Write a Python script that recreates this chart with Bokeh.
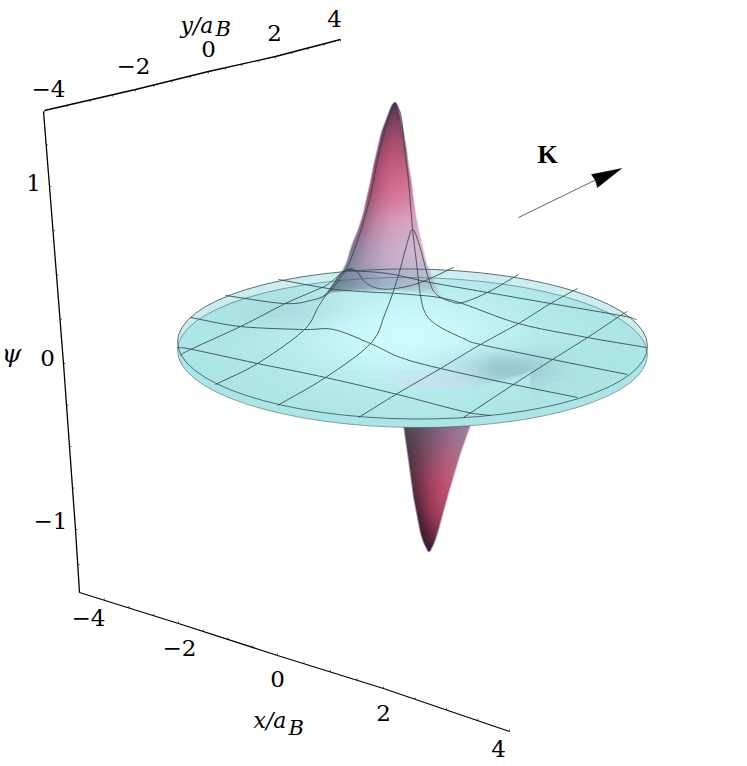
import numpy as np
from bokeh.plotting import figure
from bokeh.models import Range1d
from bokeh.core.properties import value
from bokeh.embed import file_html
from bokeh.resources import INLINE

# ---- axis frame (page pixels)
y_axis_vals = [-4, -2, 0, 2, 4]
y_axis_px = [(44, 110), (135, 89), (208, 71), (275, 56), (340, 39)]
x_axis_vals = [-4, -2, 0, 2, 4]
x_axis_px = [(79, 592), (178, 623), (277, 655), (383, 688), (509, 731)]
z_axis_vals = [1.45, 1, 0, -1, -1.45]
z_axis_px = [(43, 111), (49, 186), (63, 363), (75, 529), (79, 592)]

y_labels = [("\u22124", 48, 88), ("\u22122", 133, 65), ("0", 208, 48), ("2", 274, 32), ("4", 334, 18)]
x_labels = [("\u22124", 88, 617), ("\u22122", 179, 647), ("0", 277, 678), ("2", 383, 712), ("4", 498, 748)]
z_labels = [("1", 33, 182), ("0", 47, 357), ("\u22121", 50, 520)]

# ---- mesh lines on the surface
mesh_a = [
    [(180,355),(190,349),(240,326),(285,303),(310,292),(327,284),(343,271),(352,268)],
    [(215,384),(257,363),(303,330),(318,306),(330,288),(343,271),(355,270),(365,282),(378,288),(395,288),(420,282),(453,267)],
    [(277,405),(325,377),(370,343),(385,312),(397,278),(406,245),(412,229),(419,245),(428,278),(435,293),(450,301),(462,302),(487,292),(518,274)],
    [(358,417),(397,393),(440,368),(480,344),(518,323),(550,303),(577,288)],
    [(463,417),(513,384),(552,359),(587,337),(620,315),(627,311)],
]
mesh_b = [
    [(347,270),(387,273),(430,282),(487,292),(550,303),(620,315),(636,319)],
    [(278,279),(328,288),(360,291),(410,294),(452,300),(518,323),(587,337),(646,347)],
    [(225,295),(283,303),(310,300),(327,293),(340,277),(349,262),(361,228),(370,195),(376,165),(384,131),(389,113),(394,102),(398,108),(401,118),(404,148),(408,181),(412,228),(416,262),(420,295),(425,313),(437,325),(463,338),(480,344),(552,359),(627,374)],
    [(190,317),(240,326),(303,329),(333,329),(370,343),(400,357),(440,368),(513,384),(577,397)],
    [(177,347),(192,349),(257,363),(325,377),(397,394),(463,411),(490,415)],
]

# ---- lobes: outlines and colour tables
up_left_y = [102,105,110,118,131,148,165,181,198,212,228,245,262,272,282,292,303]
up_left_x = [394,391,389,386,381,377,373,370,366,363,358,351,346,341,333,327,314]
up_right_y = [102,105,111,131,148,165,181,198,212,228,245,262,278,288,295,303]
up_right_x = [395,397,399,403,406,408,411,413,415,418,422,426,432,437,442,453]
up_base_x = [314,330,353,393,420,437,453]
up_base_y = [303,292,290,290,292,295,303]
up_rows = [103,115,140,165,195,220,245,262,272,285,295,303]
up_cols = [
    [(70,45,70),(70,45,70),(75,45,72),(75,45,72),(75,48,75)],
    [(90,50,80),(105,58,88),(118,66,96),(112,62,90),(100,60,90)],
    [(120,68,100),(155,72,102),(168,76,106),(165,80,110),(145,85,115)],
    [(140,72,108),(180,85,120),(198,92,126),(198,96,128),(185,100,130)],
    [(150,78,112),(195,100,135),(212,115,150),(215,122,155),(210,130,160)],
    [(145,95,125),(190,130,162),(212,150,180),(218,160,188),(220,165,190)],
    [(130,110,140),(175,148,178),(198,168,198),(206,178,204),(212,186,208)],
    [(125,125,155),(170,155,185),(198,172,202),(204,180,206),(208,185,208)],
    [(115,132,152),(148,152,177),(172,172,200),(182,180,205),(190,187,208)],
    [(106,130,145),(130,154,174),(158,178,200),(167,187,204),(172,197,206)],
    [(115,155,170),(152,192,206),(190,225,240),(190,232,240),(190,235,240)],
    [(130,190,195),(165,215,225),(195,240,245),(195,240,245),(195,240,245)],
]
lo_left_y = [425,460,497,533,545,551]
lo_left_x = [403,408,413,420,424,428]
lo_right_y = [425,453,493,533,545,551]
lo_right_x = [470,460,448,437,433,429]
lo_rows = [425,450,480,510,535,551]
lo_cols = [
    [(80,70,85),(95,85,105),(120,100,125),(145,115,145),(155,130,160)],
    [(75,55,70),(110,70,90),(140,85,110),(165,100,130),(170,115,145)],
    [(85,45,65),(125,55,80),(165,70,100),(190,80,110),(185,95,125)],
    [(70,35,55),(110,45,70),(150,55,85),(170,65,95),(165,75,105)],
    [(50,25,50),(75,30,55),(95,35,60),(110,40,65),(115,50,75)],
    [(50,30,55),(50,30,55),(50,30,55),(50,30,55),(50,30,55)],
]

# ---- soft shading over the disc: centre x, centre y, spread x, spread y, colour, strength
disc_shades = [
    (305, 312, 42, 11, (145, 195, 202), 0.6),
    (408, 335, 82, 36, (208, 252, 255), 1.0),
    (506, 369, 36, 12, (135, 178, 190), 0.62),
]
dent_edge_x = [370, 380, 407, 440, 473, 497, 515, 530]
dent_edge_y = [372, 377, 385, 387, 385, 380, 375, 370]

W, H = 745, 764
XX, YY = np.meshgrid(np.arange(W) + .5, np.arange(H) + .5)


def blur(col, n=5):
    # box blur along both axes, twice: irons out the creases of the colour tables
    c = col.copy()
    k = np.ones(n) / n
    for _ in range(2):
        for ax in (0, 1):
            pad = [(n // 2, n // 2) if i == ax else (0, 0) for i in range(3)]
            e = np.pad(c, pad, mode="edge")
            c = np.apply_along_axis(lambda m: np.convolve(m, k, mode="valid"), ax, e)
    return c


def edge_curve(yy, ey, ex, n=9):
    # the traced outline, evened out along its height
    rows = np.arange(int(min(ey)), int(max(ey)) + 2) + .5
    xs = np.interp(rows, ey, ex)
    e = np.pad(xs, (n // 2, n // 2), mode="edge")
    s = np.convolve(e, np.ones(n) / n, mode="valid")
    s[:4] = xs[:4]
    return np.interp(yy, rows, s)


def lobe_layer(lx, ly, rx, ry, rows, cols):
    C = np.array(cols, float)
    y0, y1 = int(min(ly)) - 8, int(max(ly)) + 8
    x0, x1 = int(min(lx)) - 8, int(max(rx)) + 8
    yy, xx = YY[y0:y1, x0:x1], XX[y0:y1, x0:x1]
    xl = edge_curve(yy, ly, lx)
    xr = edge_curve(yy, ry, rx)
    u = np.clip((xx - xl) / np.maximum(xr - xl, .5), 0, 1) * 4
    r = np.interp(yy, rows, np.arange(len(rows)))
    i = np.clip(np.floor(r).astype(int), 0, len(rows) - 2)
    j = np.clip(np.floor(u).astype(int), 0, 3)
    fr = (r - i)[..., None]
    fu = (u - j)[..., None]
    col = (C[i, j] * (1 - fu) + C[i, j + 1] * fu) * (1 - fr) + (C[i + 1, j] * (1 - fu) + C[i + 1, j + 1] * fu) * fr
    col = blur(col)
    cov = np.clip(xx - xl + .5, 0, 1) * np.clip(xr - xx + .5, 0, 1)
    cov = cov * (yy >= min(ly)) * (yy <= max(ly))
    out_c = np.zeros((H, W, 3))
    out_a = np.zeros((H, W))
    out_c[y0:y1, x0:x1] = col
    out_a[y0:y1, x0:x1] = cov
    return out_c, out_a


def over(rgb, a, c, ca):
    ca = ca[..., None]
    a = a[..., None]
    out = ca + a * (1 - ca)
    res = np.where(out > 1e-4, (c * ca + rgb * a * (1 - ca)) / np.maximum(out, 1e-4), c)
    return res, out[..., 0]


def to_image(rgb, a):
    img = np.zeros((H, W), dtype=np.uint32)
    v = img.view(dtype=np.uint8).reshape((H, W, 4))
    v[..., :3] = np.clip(rgb, 0, 255).astype(np.uint8)
    v[..., 3] = np.clip(a * 255, 0, 255).astype(np.uint8)
    return img


# lower lobe
lo_rgb, lo_a = lobe_layer(lo_left_x, lo_left_y, lo_right_x, lo_right_y, lo_rows, lo_cols)

# disc shading + upper lobe
rgb = np.zeros((H, W, 3)) + np.array([172, 229, 229.])
a = np.zeros((H, W))
in_disc = (((XX - 412) / 234) ** 2 + ((YY - 346 - .01 * (XX - 412)) / 73) ** 2) < 1
edge = np.interp(XX, dent_edge_x, dent_edge_y)
for cx, cy, sx, sy, colr, st in disc_shades:
    g = st * np.exp(-.5 * ((XX - cx) / sx) ** 2 - .5 * ((YY - cy) / sy) ** 2) * in_disc
    if cx > 480:
        g = g * np.where((YY > edge) & (XX < 530), np.exp(-(YY - edge) / 1.5), 1)
    rgb, a = over(rgb, a, np.array(colr, float) * np.ones((H, W, 3)), g)
d = edge - YY
cres = np.exp(-np.maximum(d, 0) / 14.) * np.clip(d + 1, 0, 1) * np.clip((XX - 378) / 35, 0, 1) * np.clip((490 - XX) / 25, 0, 1) * .95
rgb, a = over(rgb, a, np.array([200, 222, 244.]) * np.ones((H, W, 3)), cres)
up_rgb, up_a = lobe_layer(up_left_x, up_left_y, up_right_x, up_right_y, up_rows, up_cols)
yb = np.interp(XX, up_base_x, up_base_y)
up_a = up_a * np.clip((yb - YY) / 2 + .5, 0, 1)
rgb, a = over(rgb, a, up_rgb, up_a)

p = figure(width=W, height=H, x_range=Range1d(0, W), y_range=Range1d(H, 0),
           x_axis_type=None, y_axis_type=None, toolbar_location=None,
           output_backend="svg", min_border=0, outline_line_color=None,
           background_fill_color="white", border_fill_color="white")
p.grid.visible = False

p.image_rgba(image=[to_image(lo_rgb, lo_a)], x=[0], y=[0], dw=[W], dh=[H])

# disc: the top face, light at the back, then the lower face in the main tint
p.ellipse(x=[412], y=[343.5], width=[470], height=[150], angle=[-0.01],
          fill_color="#cdeef0", line_color=None)
p.ellipse(x=[412], y=[352], width=[470], height=[150], angle=[-0.01],
          fill_color="#ace5e5", line_color=None)

p.image_rgba(image=[to_image(rgb, a)], x=[0], y=[0], dw=[W], dh=[H])

p.ellipse(x=[412], y=[352], width=[470], height=[150], angle=[-0.01],
          fill_color=None, line_color="#3c5050", line_alpha=0.5, line_width=1)
p.ellipse(x=[412], y=[343.5], width=[470], height=[150], angle=[-0.01],
          fill_color=None, line_color="#3c5050", line_alpha=0.8, line_width=1)


def smooth(pts, n=12):
    P = np.array(pts, float)
    P = np.vstack([2 * P[0] - P[1], P, 2 * P[-1] - P[-2]])
    t = np.linspace(0, 1, n, endpoint=False)[:, None]
    out = []
    for k in range(1, len(P) - 2):
        p0, p1, p2, p3 = P[k - 1], P[k], P[k + 1], P[k + 2]
        out.append(.5 * (2 * p1 + (p2 - p0) * t + (2 * p0 - 5 * p1 + 4 * p2 - p3) * t ** 2 + (3 * p1 - p0 - 3 * p2 + p3) * t ** 3))
    out.append(P[-2][None])
    return np.vstack(out)


for line in mesh_a + mesh_b:
    s = smooth(line)
    p.line(s[:, 0], s[:, 1], line_color="#2f4448", line_width=1, line_alpha=0.85)

# frame
for pts in (y_axis_px, x_axis_px, z_axis_px):
    p.line([q[0] for q in pts], [q[1] for q in pts], line_color="black", line_width=1.3)


def ticks(vals, pts, step, dx, dy):
    tv = np.arange(np.ceil(min(vals) / step) * step, max(vals) + 1e-6, step)
    order = np.argsort(vals)
    vv = np.array(vals)[order]
    xs = np.interp(tv, vv, np.array([q[0] for q in pts], float)[order])
    ys = np.interp(tv, vv, np.array([q[1] for q in pts], float)[order])
    p.segment(xs, ys, xs + dx, ys + dy, line_color="black", line_width=0.6)


ticks(y_axis_vals, y_axis_px, .5, 0, 2)
ticks(x_axis_vals, x_axis_px, .5, 0, -2)
ticks(z_axis_vals, z_axis_px, .25, 2, 0)

serif = value("DejaVu Serif")
for group in (y_labels, x_labels, z_labels):
    p.text(x=[g[1] for g in group], y=[g[2] for g in group], text=[g[0] for g in group],
           text_font=serif, text_font_size="23px", text_align="center",
           text_baseline="middle", text_color="black")

p.text(x=[180], y=[25], text=["y/a"], text_font=serif, text_font_style="italic",
       text_font_size="22px", text_baseline="alphabetic", text_color="black")
p.text(x=[215], y=[28], text=["B"], text_font=serif, text_font_style="italic",
       text_font_size="21px", text_baseline="alphabetic", text_color="black")
p.text(x=[253], y=[720], text=["x/a"], text_font=serif, text_font_style="italic",
       text_font_size="22px", text_baseline="alphabetic", text_color="black")
p.text(x=[288], y=[727], text=["B"], text_font=serif, text_font_style="italic",
       text_font_size="21px", text_baseline="alphabetic", text_color="black")
p.text(x=[11], y=[353], text=["\u03c8"], text_font=serif, text_font_style="italic",
       text_font_size="25px", text_align="center", text_baseline="middle", text_color="black")
p.text(x=[547], y=[154], text=["K"], text_font=value("Liberation Serif"), text_font_style="bold",
       text_font_size="26px", text_align="center", text_baseline="middle", text_color="black")

# K arrow
p.line([518, 598], [217, 178], line_color="#555555", line_width=0.9)
p.patch([621, 591, 595, 597], [168, 174, 180, 187], fill_color="black", line_color="black", line_width=0.5)

open("out.html", "w").write(file_html(p, INLINE))
